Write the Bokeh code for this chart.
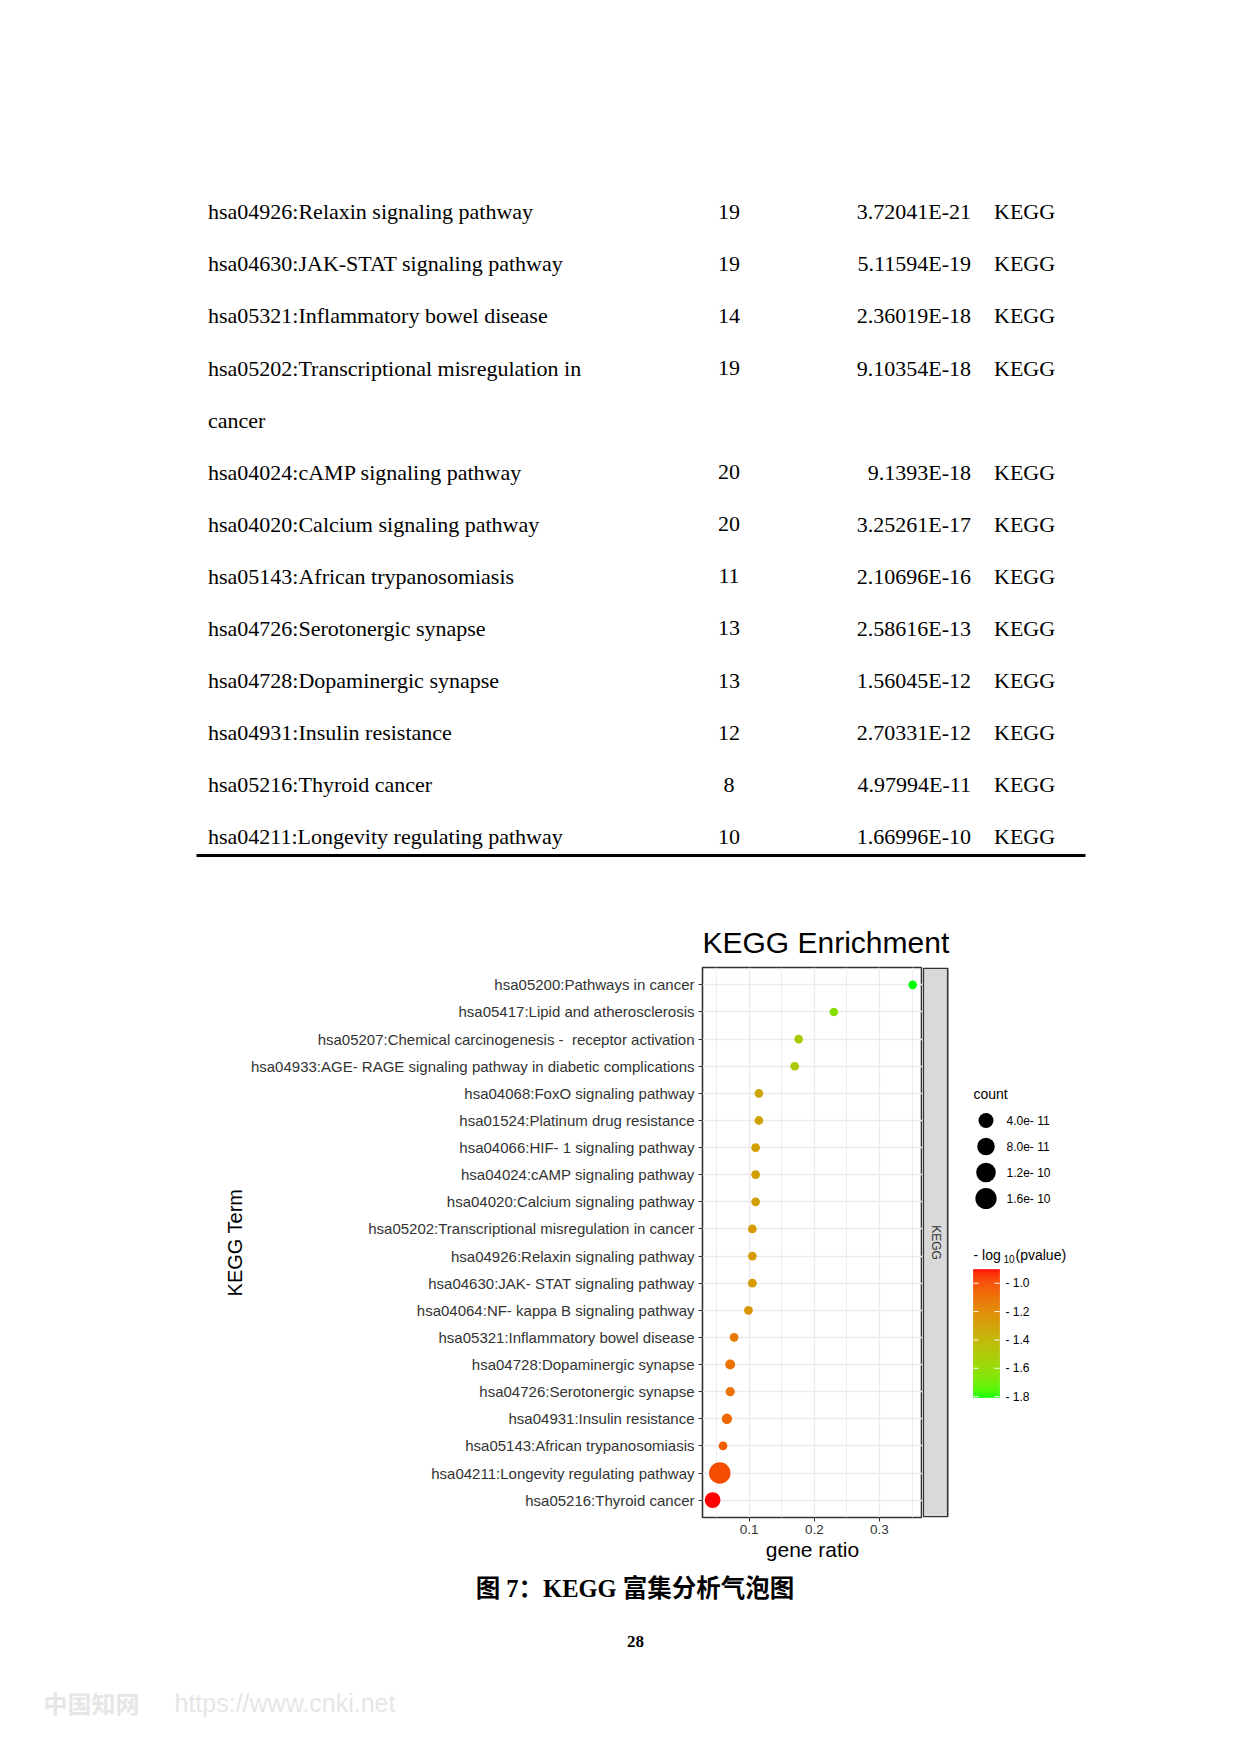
import numpy as np
from bokeh.plotting import figure
from bokeh.models import Range1d, FactorRange, FixedTicker, LinearColorMapper, ColumnDataSource
from bokeh.transform import transform
from bokeh.layouts import column, row
from bokeh.core.properties import value
from bokeh.embed import file_html
from bokeh.resources import INLINE

# ---------------- table data (top of page) ----------------
table_terms = [
    ["hsa04926:Relaxin signaling pathway"],
    ["hsa04630:JAK-STAT signaling pathway"],
    ["hsa05321:Inflammatory bowel disease"],
    ["hsa05202:Transcriptional misregulation in", "cancer"],
    ["hsa04024:cAMP signaling pathway"],
    ["hsa04020:Calcium signaling pathway"],
    ["hsa05143:African trypanosomiasis"],
    ["hsa04726:Serotonergic synapse"],
    ["hsa04728:Dopaminergic synapse"],
    ["hsa04931:Insulin resistance"],
    ["hsa05216:Thyroid cancer"],
    ["hsa04211:Longevity regulating pathway"],
]
table_counts = [19, 19, 14, 19, 20, 20, 11, 13, 13, 12, 8, 10]
table_pvalues = ["3.72041E-21", "5.11594E-19", "2.36019E-18", "9.10354E-18", "9.1393E-18",
                 "3.25261E-17", "2.10696E-16", "2.58616E-13", "1.56045E-12", "2.70331E-12",
                 "4.97994E-11", "1.66996E-10"]
table_category = ["KEGG"] * 12

# ---------------- bubble chart data ----------------
terms = [
    "hsa05200:Pathways in cancer",
    "hsa05417:Lipid and atherosclerosis",
    "hsa05207:Chemical carcinogenesis -\u00a0 receptor activation",
    "hsa04933:AGE- RAGE signaling pathway in diabetic complications",
    "hsa04068:FoxO signaling pathway",
    "hsa01524:Platinum drug resistance",
    "hsa04066:HIF- 1 signaling pathway",
    "hsa04024:cAMP signaling pathway",
    "hsa04020:Calcium signaling pathway",
    "hsa05202:Transcriptional misregulation in cancer",
    "hsa04926:Relaxin signaling pathway",
    "hsa04630:JAK- STAT signaling pathway",
    "hsa04064:NF- kappa B signaling pathway",
    "hsa05321:Inflammatory bowel disease",
    "hsa04728:Dopaminergic synapse",
    "hsa04726:Serotonergic synapse",
    "hsa04931:Insulin resistance",
    "hsa05143:African trypanosomiasis",
    "hsa04211:Longevity regulating pathway",
    "hsa05216:Thyroid cancer",
]
gene_ratio = [0.351, 0.230, 0.176, 0.170, 0.115, 0.115, 0.110, 0.110, 0.110, 0.105,
              0.105, 0.105, 0.099, 0.077, 0.071, 0.071, 0.066, 0.060, 0.055, 0.044]
counts = [64, 42, 32, 31, 21, 21, 20, 20, 20, 19, 19, 19, 18, 14, 13, 13, 12, 11, 10, 8]
pvalues = [1e-40, 1e-33, 1e-28, 1e-27, 1e-23, 1e-22, 1e-22, 9.1393e-18, 3.25261e-17, 9.10354e-18,
           3.72041e-21, 5.11594e-19, 1e-21, 2.36019e-18, 1.56045e-12, 2.58616e-13, 2.70331e-12,
           2.10696e-16, 1.66996e-10, 4.97994e-11]

x_ticks = [0.1, 0.2, 0.3]
x_minor = [0.05, 0.15, 0.25, 0.35]
size_breaks = [4e-11, 8e-11, 1.2e-10, 1.6e-10]
size_break_labels = ["4.0e- 11", "8.0e- 11", "1.2e- 10", "1.6e- 10"]
color_breaks = [-1.0, -1.2, -1.4, -1.6, -1.8]
color_break_labels = ["- 1.0", "- 1.2", "- 1.4", "- 1.6", "- 1.8"]

SANS = "Liberation Sans"
SERIF = "Liberation Serif"

# ---------------- helpers ----------------
def _lin(c):
    c = c / 255.0
    return np.where(c <= 0.04045, c / 12.92, ((c + 0.055) / 1.055) ** 2.4)

def _gam(c):
    c = np.clip(c, 0, 1)
    return np.where(c <= 0.0031308, 12.92 * c, 1.055 * c ** (1 / 2.4) - 0.055) * 255

M = np.array([[0.4124, 0.3576, 0.1805], [0.2126, 0.7152, 0.0722], [0.0193, 0.1192, 0.9505]])
MI = np.linalg.inv(M)
WN = np.array([0.95047, 1.0, 1.08883])

def rgb2lab(rgb):
    xyz = M @ _lin(np.array(rgb, float)) / WN
    f = np.where(xyz > 0.008856, np.cbrt(xyz), 7.787 * xyz + 16 / 116)
    return np.array([116 * f[1] - 16, 500 * (f[0] - f[1]), 200 * (f[1] - f[2])])

def lab2rgb(lab):
    fy = (lab[0] + 16) / 116
    fx = fy + lab[1] / 500
    fz = fy - lab[2] / 200
    f = np.array([fx, fy, fz])
    xyz = np.where(f ** 3 > 0.008856, f ** 3, (f - 16 / 116) / 7.787) * WN
    return _gam(MI @ xyz)

lab_lo = rgb2lab([0, 255, 0])
lab_hi = rgb2lab([255, 0, 0])
palette = []
for t in np.linspace(0, 1, 256):
    r, g, b = lab2rgb(lab_lo + (lab_hi - lab_lo) * t)
    palette.append("#%02x%02x%02x" % (int(round(r)), int(round(g)), int(round(b))))

cval = [-np.log10(c) for c in counts]
cmin, cmax = min(cval), max(cval)
mapper = LinearColorMapper(palette=palette, low=cmin, high=cmax)

DMIN, DMAX = 8.7, 21.5
pmin, pmax = min(pvalues), max(pvalues)

def dia(p):
    return DMIN + (DMAX - DMIN) * np.sqrt((p - pmin) / (pmax - pmin))


def page_fig(w, h, x0, x1, y0, y1, bt=0, bb=0):
    p = figure(width=w, height=h, x_range=Range1d(x0, x1), y_range=Range1d(y1, y0),
               x_axis_type=None, y_axis_type=None, output_backend="svg",
               toolbar_location=None, min_border=0, min_border_left=0,
               min_border_right=0, min_border_top=bt, min_border_bottom=bb)
    p.outline_line_color = None
    p.background_fill_color = "white"
    p.border_fill_color = "white"
    return p

# ---------------- top: table + title (screen y 0..960) ----------------
top = page_fig(1240, 960, 0, 1240, 0, 960)
BASE0, STEP = 211.3, 52.08
line_idx = 0
tx, ty, cy, cl, py, pl, ky, kl = [], [], [], [], [], [], [], []
for i, lines in enumerate(table_terms):
    yb = BASE0 + STEP * line_idx
    cy.append(yb); cl.append(str(table_counts[i]))
    py.append(yb); pl.append(table_pvalues[i])
    ky.append(yb); kl.append(table_category[i])
    for j, ln in enumerate(lines):
        ty.append(BASE0 + STEP * (line_idx + j)); tx.append(ln)
    line_idx += len(lines)

tfs = "22px"
top.text(x=207.5, y=ty, text=tx, text_font=value(SERIF), text_font_size=tfs,
         text_align="left", text_baseline="alphabetic", text_color="black")
top.text(x=728.5, y=cy, text=cl, text_font=value(SERIF), text_font_size=tfs,
         text_align="center", text_baseline="alphabetic", text_color="black")
top.text(x=970.5, y=py, text=pl, text_font=value(SERIF), text_font_size=tfs,
         text_align="right", text_baseline="alphabetic", text_color="black")
top.text(x=993.5, y=ky, text=kl, text_font=value(SERIF), text_font_size=tfs,
         text_align="left", text_baseline="alphabetic", text_color="black")
top.segment(x0=196, y0=855, x1=1085, y1=855, line_color="black", line_width=3)
top.text(x=702, y=942, text=["KEGG Enrichment"], text_font=value(SANS), text_font_size="30px",
         text_align="left", text_baseline="middle", text_color="black")

# ---------------- chart (screen y 960..1570, frame 967..1517, x 702..922) ----------------
BT, BB = 7, 53
src = ColumnDataSource(dict(term=terms, ratio=gene_ratio, cval=cval,
                            size=[dia(p) for p in pvalues]))
chart = figure(width=922, height=610, x_range=Range1d(0.0285, 0.366),
               y_range=FactorRange(factors=terms[::-1], range_padding=0.14,
                                   range_padding_units="absolute"),
               output_backend="svg", toolbar_location=None,
               min_border_left=702, min_border_right=0, min_border_top=BT, min_border_bottom=BB)
chart.background_fill_color = "white"
chart.border_fill_color = "white"
chart.outline_line_color = "#333333"
chart.outline_line_width = 1.6
chart.scatter("ratio", "term", size="size", source=src,
              fill_color=transform("cval", mapper), line_color=None)

chart.xaxis.ticker = FixedTicker(ticks=x_ticks, minor_ticks=x_minor)
for ax in (chart.xaxis[0], chart.yaxis[0]):
    ax.axis_line_color = None
    ax.major_tick_line_color = "#333333"
    ax.major_tick_in = 0
    ax.major_tick_out = 4
    ax.minor_tick_line_color = None
    ax.major_label_text_font = SANS
    ax.major_label_text_color = "#333333"
    ax.axis_label_text_font = SANS
    ax.axis_label_text_font_style = "normal"
    ax.axis_label_text_color = "black"
chart.xaxis.major_label_text_font_size = "13.5px"
chart.xaxis.major_label_standoff = 3
chart.xaxis.axis_label = "gene ratio"
chart.xaxis.axis_label_text_font_size = "21px"
chart.xaxis.axis_label_standoff = 1
chart.yaxis.major_label_text_font_size = "15px"
chart.yaxis.major_label_standoff = 4
chart.yaxis.axis_label = "KEGG Term"
chart.yaxis.axis_label_text_font_size = "20px"
chart.yaxis.axis_label_standoff = 2

chart.xgrid.grid_line_color = "#ebebeb"
chart.xgrid.grid_line_width = 1.4
chart.xgrid.minor_grid_line_color = "#eeeeee"
chart.xgrid.minor_grid_line_width = 1.0
chart.ygrid.grid_line_color = "#ebebeb"
chart.ygrid.grid_line_width = 1.4

# ---------------- strip + legend (same frame rows as chart) ----------------
leg = page_fig(318, 610, 922, 1240, 967, 1517, bt=BT, bb=BB)
leg.quad(left=922.8, right=947.2, top=967.8, bottom=1516.2, fill_color="#d9d9d9",
         line_color="#333333", line_width=1.6)
leg.text(x=935, y=1242, text=["KEGG"], angle=-np.pi / 2, text_font=value(SANS),
         text_font_size="12px", text_align="center", text_baseline="middle",
         text_color="#333333")

leg.text(x=973, y=1093, text=["count"], text_font=value(SANS), text_font_size="14px",
         text_align="left", text_baseline="middle", text_color="black")
sy = [1120 + 26 * i for i in range(len(size_breaks))]
leg.scatter(x=985.5, y=sy, size=[dia(b) for b in size_breaks], fill_color="black",
            line_color=None)
leg.text(x=1006, y=sy, text=size_break_labels, text_font=value(SANS), text_font_size="12px",
         text_align="left", text_baseline="middle", text_color="black")

leg.text(x=973, y=1254, text=["- log"], text_font=value(SANS), text_font_size="14px",
         text_align="left", text_baseline="alphabetic", text_color="black")
leg.text(x=1003, y=1258, text=["10"], text_font=value(SANS), text_font_size="10px",
         text_align="left", text_baseline="alphabetic", text_color="black")
leg.text(x=1015, y=1254, text=["(pvalue)"], text_font=value(SANS), text_font_size="14px",
         text_align="left", text_baseline="alphabetic", text_color="black")

CB_TOP, CB_H, CB_L, CB_R = 1269.0, 128.0, 973.0, 999.0
N = 128
vals = [cmax - (k + 0.5) / N * (cmax - cmin) for k in range(N)]
cb = ColumnDataSource(dict(v=vals, top=[CB_TOP + CB_H * k / N for k in range(N)],
                           bottom=[CB_TOP + CB_H * (k + 1) / N for k in range(N)]))
leg.quad(left=CB_L, right=CB_R, top="top", bottom="bottom", source=cb,
         fill_color=transform("v", mapper), line_color=transform("v", mapper), line_width=0.6)
ty_cb = [CB_TOP + (cmax - t) / (cmax - cmin) * CB_H for t in color_breaks]
leg.segment(x0=CB_L, x1=CB_L + 5, y0=ty_cb, y1=ty_cb, line_color="white", line_width=1)
leg.segment(x0=CB_R - 5, x1=CB_R, y0=ty_cb, y1=ty_cb, line_color="white", line_width=1)
leg.text(x=1005, y=ty_cb, text=color_break_labels, text_font=value(SANS), text_font_size="12px",
         text_align="left", text_baseline="middle", text_color="black")

# ---------------- bottom: caption, page number, watermark (screen y 1570..1750) ----------------
bot = page_fig(1240, 180, 0, 1240, 1570, 1750)
bot.text(x=634.5, y=1588, text=["图 7：KEGG 富集分析气泡图"],
         text_font=value("'Liberation Serif', 'Noto Sans CJK SC'"), text_font_size="24.5px",
         text_font_style="bold", text_align="center", text_baseline="middle", text_color="black")
bot.text(x=635, y=1641, text=["28"], text_font=value(SERIF), text_font_size="17px",
         text_font_style="bold", text_align="center", text_baseline="middle", text_color="black")
bot.text(x=43, y=1702, text=["中国知网"], text_font=value("Noto Sans CJK SC"),
         text_font_size="24px", text_font_style="bold", text_align="left",
         text_baseline="middle", text_color="#e6e6e6")
bot.text(x=174, y=1702, text=["https://www.cnki.net"], text_font=value(SANS),
         text_font_size="25px", text_align="left", text_baseline="middle", text_color="#e6e6e6")

layout = column(top, row(chart, leg), bot)
open("out.html", "w").write(file_html(layout, INLINE))
